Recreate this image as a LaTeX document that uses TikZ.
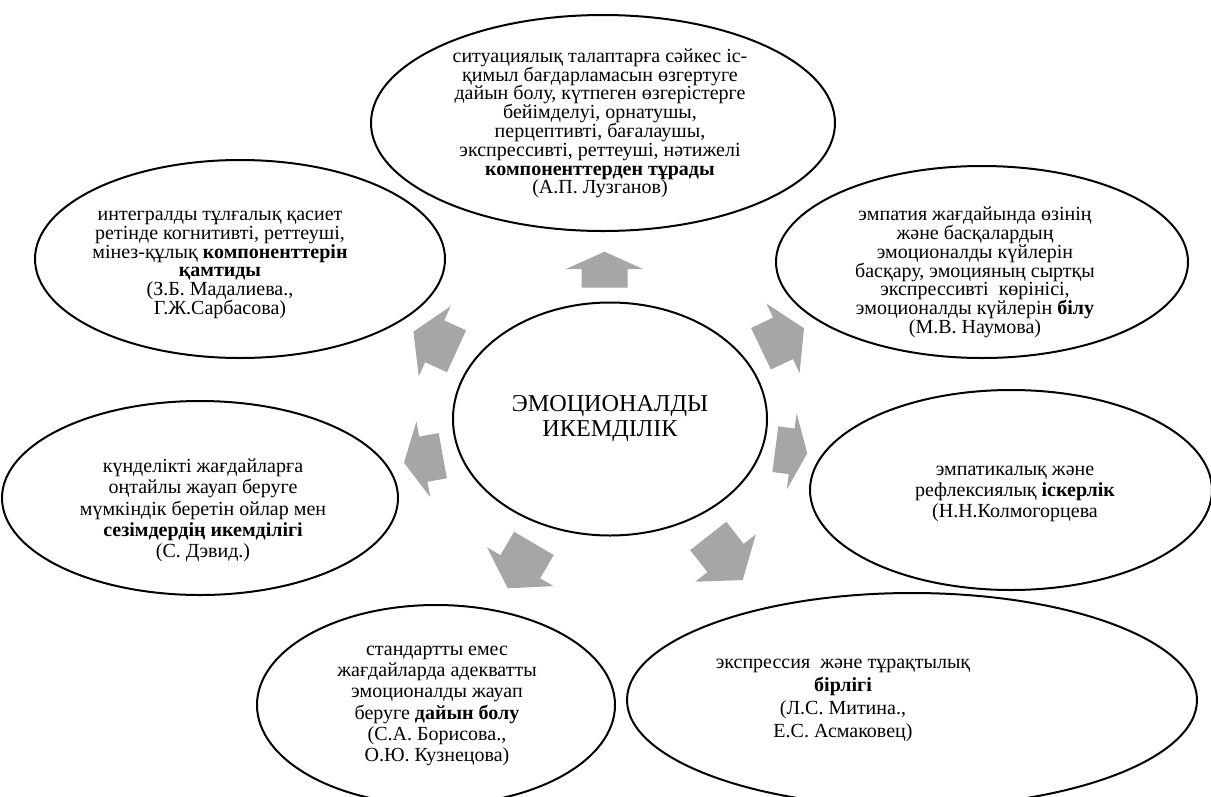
\documentclass[tikz,border=0pt]{standalone}
\usepackage{fontspec}
\setmainfont{Liberation Serif}
\usetikzlibrary{shapes.geometric}
\definecolor{arrgray}{HTML}{A6A6A6}

\begin{document}
\begin{tikzpicture}[x=1pt,y=-1pt,
  oval/.style={draw,ellipse,line width=2pt,inner sep=0pt},
  txt/.style={align=center,inner sep=0pt,font=\fontsize{20}{18.8}\selectfont},
  txtwide/.style={txt,font=\fontsize{20}{21.3}\selectfont},
  blk/.style={fill=arrgray}]
\useasboundingbox (0,0) rectangle (1211,796);

% ellipses
\node[oval,minimum width=464pt,minimum height=216pt] (top) at (603,123) {};
\node[oval,minimum width=410pt,minimum height=198pt] (topleft) at (240,259) {};
\node[oval,minimum width=412pt,minimum height=192pt] (topright) at (982,262) {};
\node[oval,minimum width=396pt,minimum height=194pt] (left) at (200,498) {};
\node[oval,minimum width=402pt,minimum height=200pt] (right) at (1011,490) {};
\node[oval,minimum width=358pt,minimum height=200pt] (botleft) at (436,705) {};
\node[oval,minimum width=570pt,minimum height=214pt] (botright) at (912,700) {};
\node[oval,minimum width=314pt,minimum height=233pt,
  font=\fontsize{24.2}{25}\selectfont,align=center] (core) at (610,419) {ЭМОЦИОНАЛДЫ\\ИКЕМДІЛІК};

% block arrows
\foreach \px/\py/\ang/\sh/\hd in {604.5/269/90/18.5/17.3, 434.7/341.3/155.5/24/23.4,
  783/338.3/25.5/24.4/23.3, 423.3/459.2/190.3/19.8/19.6, 791.7/451.3/-7.3/16.5/15.7,
  520.3/566.7/239.7/27/25, 725.5/558/-52/28/28}
  \fill[blk,shift={(\px,\py)},rotate=\ang] (-\sh,-23) -- (0,-23) -- (0,-38.5) -- (\hd,0)
    -- (0,38.5) -- (0,23) -- (-\sh,23) -- cycle;

% texts
\node[txt] (t-top) at (600,123.5) {ситуациялық талаптарға сәйкес іс-\\қимыл бағдарламасын өзгертуге\\дайын болу, күтпеген өзгерістерге\\бейімделуі, орнатушы,\\перцептивті, бағалаушы,\\экспрессивті, реттеуші, нәтижелі\\\textbf{компоненттерден тұрады}\\(А.П. Лузганов)};
\node[txt] (t-topleft) at (220,265) {интегралды тұлғалық қасиет\\ретінде когнитивті, реттеуші,\\мінез-құлық \textbf{компоненттерін}\\\textbf{қамтиды}\\(З.Б. Мадалиева.,\\Г.Ж.Сарбасова)};
\node[txt] (t-topright) at (975,272.5) {эмпатия жағдайында өзінің\\және басқалардың\\эмоционалды күйлерін\\басқару, эмоцияның сыртқы\\экспрессивті\ \ көрінісі,\\эмоционалды күйлерін \textbf{білу}\\(М.В. Наумова)};
\node[txtwide] (t-left) at (203,510.5) {күнделікті жағдайларға\\оңтайлы жауап беруге\\мүмкіндік беретін ойлар мен\\\textbf{сезімдердің икемділігі}\\(С. Дэвид.)};
\node[txtwide] (t-right) at (1015,494) {эмпатикалық және\\рефлексиялық \textbf{іскерлік}\\(Н.Н.Колмогорцева};
\node[txtwide] (t-botleft) at (437,706) {стандартты емес\\жағдайларда адекватты\\эмоционалды жауап\\беруге \textbf{дайын болу}\\(С.А. Борисова.,\\О.Ю. Кузнецова)};
\node[txt,font=\fontsize{20}{23}\selectfont] (t-botright) at (843,700) {экспрессия\ \ және тұрақтылық\\\textbf{бірлігі}\\(Л.С. Митина.,\\Е.С. Асмаковец)};

\end{tikzpicture}
\end{document}
